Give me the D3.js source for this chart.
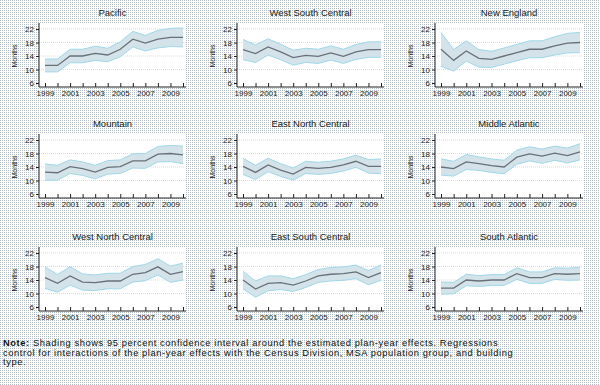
<!DOCTYPE html>
<html>
<head>
<meta charset="utf-8">
<script src="https://cdn.jsdelivr.net/npm/d3@7"></script>
<style>
  body { margin: 0; }
  svg { display: block; }
</style>
</head>
<body>
<div id="chart"></div>
<script>
// Years on the x axis, labelled only every other year
const years = [1999, 2000, 2001, 2002, 2003, 2004, 2005, 2006, 2007, 2008, 2009, 2010];
const yearLabels = [1999, 2001, 2003, 2005, 2007, 2009];
const monthTicks = [6, 10, 14, 18, 22];

const regions = ["Pacific", "West South Central", "New England",
                 "Mountain", "East North Central", "Middle Atlantic",
                 "West North Central", "East South Central", "South Atlantic"];

// estimated plan-year effects (months) and half-width of the 95% interval
const pacific       = [11.2, 11.2, 14.0, 14.0, 14.8, 14.3, 16.0, 19.0, 17.8, 19.0, 19.5, 19.5];
const pacificErr    = [1.9, 1.9, 2.0, 2.0, 2.1, 2.0, 2.2, 2.3, 2.3, 2.6, 2.7, 2.8];
const westSouth     = [15.9, 14.7, 16.7, 15.2, 13.5, 14.2, 13.9, 14.9, 13.9, 15.2, 15.9, 15.9];
const westSouthErr  = [3.0, 2.6, 2.4, 2.3, 2.2, 2.1, 2.1, 2.1, 2.1, 2.2, 2.3, 2.3];
const newEngland    = [16.0, 12.7, 15.5, 13.3, 13.0, 14.0, 15.0, 16.0, 16.0, 17.0, 17.8, 18.0];
const newEnglandErr = [5.0, 3.2, 3.0, 2.6, 2.4, 2.4, 2.4, 2.5, 2.5, 2.7, 2.9, 3.0];
const mountain      = [12.5, 12.3, 14.1, 13.5, 12.5, 13.9, 14.1, 15.8, 15.8, 17.8, 18.0, 17.6];
const mountainErr   = [2.4, 2.2, 2.0, 2.0, 2.0, 2.0, 2.0, 2.1, 2.2, 2.3, 2.4, 2.6];
const eastNorth     = [14.2, 12.4, 14.6, 13.1, 11.9, 13.9, 13.6, 13.9, 14.6, 15.7, 14.2, 14.2];
const eastNorthErr  = [2.4, 2.1, 2.0, 1.9, 1.8, 1.8, 1.8, 1.8, 1.8, 1.8, 2.0, 2.2];
const midAtlantic   = [14.0, 13.5, 15.5, 15.0, 14.4, 14.0, 16.9, 17.9, 17.2, 18.1, 17.4, 18.5];
const midAtlErr     = [2.4, 2.2, 2.2, 2.0, 2.0, 2.0, 2.1, 2.1, 2.1, 2.1, 2.2, 2.4];
const westNorth     = [14.7, 13.0, 15.2, 13.4, 13.2, 13.7, 13.7, 15.7, 16.2, 17.9, 15.7, 16.5];
const westNorthErr  = [3.2, 2.6, 2.7, 2.4, 2.3, 2.3, 2.3, 2.3, 2.4, 2.4, 2.4, 2.5];
const eastSouth     = [14.0, 11.3, 13.0, 13.2, 12.5, 13.7, 15.2, 15.7, 15.9, 16.4, 14.7, 16.2];
const eastSouthErr  = [2.6, 2.4, 2.2, 2.0, 1.9, 1.9, 1.9, 2.0, 2.0, 2.0, 2.1, 2.3];
const southAtlantic = [11.6, 11.6, 14.0, 13.7, 14.0, 14.0, 15.9, 14.7, 14.7, 15.9, 15.7, 15.9];
const southAtlErr   = [1.8, 1.7, 1.7, 1.6, 1.6, 1.6, 1.7, 1.7, 1.7, 1.7, 1.8, 1.9];

const seriesMid = [pacific, westSouth, newEngland, mountain, eastNorth, midAtlantic, westNorth, eastSouth, southAtlantic];
const seriesErr = [pacificErr, westSouthErr, newEnglandErr, mountainErr, eastNorthErr, midAtlErr, westNorthErr, eastSouthErr, southAtlErr];

const noteLines = [
    ["Note:", " Shading shows 95 percent confidence interval around the estimated plan-year effects.  Regressions"],
    ["", "control for interactions of the plan-year effects with the Census Division, MSA population group, and building"],
    ["", "type."]
];

// layout
const width = 600, height = 385;
const colTickX = [[45, 183], [243, 381], [441, 580]];  // x of 1999 and 2010 ticks
const rowTopY = [29, 140, 253];                          // y of the 22 tick
const plotH = 54;
const font = "'Liberation Sans', Arial, sans-serif";

const svg = d3.select("#chart").append("svg")
    .attr("width", width)
    .attr("height", height);

// dithered grey background
const pat = svg.append("defs").append("pattern")
    .attr("id", "dots")
    .attr("patternUnits", "userSpaceOnUse")
    .attr("width", 2).attr("height", 2);
pat.append("rect").attr("width", 2).attr("height", 2).attr("fill", "#ffffff");
pat.append("rect").attr("width", 1).attr("height", 1).attr("fill", "#b4bec8");

svg.append("rect")
    .attr("width", width).attr("height", height)
    .attr("fill", "url(#dots)");

regions.forEach((name, i) => {
    const col = i % 3, row = Math.floor(i / 3);
    const mid = seriesMid[i], err = seriesErr[i];
    const rows = years.map((yr, k) => ({ yr: yr, m: mid[k], lo: mid[k] - err[k], hi: mid[k] + err[k] }));

    const x = d3.scaleLinear().domain([1999, 2010]).range(colTickX[col]);
    const y = d3.scaleLinear().domain([6, 22]).range([rowTopY[row] + plotH, rowTopY[row]]);

    const left = x(1999) - 6, right = x(2010) + 3;
    const top = y(22) - 6, bottom = y(6) + 4;

    const g = svg.append("g");

    // white plot region
    g.append("rect")
        .attr("x", left).attr("y", top)
        .attr("width", right - left).attr("height", bottom - top)
        .attr("fill", "#fff");

    // faint grid lines
    g.selectAll(".grid")
        .data(monthTicks.slice(1))
        .join("line")
        .attr("x1", left).attr("x2", right)
        .attr("y1", d => y(d)).attr("y2", d => y(d))
        .attr("stroke", "#cfd3d8")
        .attr("stroke-width", 0.8)
        .attr("stroke-dasharray", "1,1");

    // confidence band
    g.append("path")
        .datum(rows)
        .attr("d", d3.area().x(d => x(d.yr)).y0(d => y(d.lo)).y1(d => y(d.hi)))
        .attr("fill", "#d3e3e9");

    const edge = (key) => d3.line().x(d => x(d.yr)).y(d => y(d[key]));
    ["lo", "hi"].forEach(k => {
        g.append("path")
            .datum(rows)
            .attr("d", edge(k))
            .attr("fill", "none")
            .attr("stroke", "#9fd8e9")
            .attr("stroke-width", 1);
    });

    // point estimate
    g.append("path")
        .datum(rows)
        .attr("d", edge("m"))
        .attr("fill", "none")
        .attr("stroke", "#6a7079")
        .attr("stroke-width", 1.3);

    // axes lines
    g.append("line")
        .attr("x1", left).attr("x2", left)
        .attr("y1", top).attr("y2", bottom)
        .attr("stroke", "#222").attr("stroke-width", 1);
    g.append("line")
        .attr("x1", left).attr("x2", right)
        .attr("y1", bottom).attr("y2", bottom)
        .attr("stroke", "#222").attr("stroke-width", 1);

    const yAxis = g.append("g")
        .attr("transform", `translate(${left},0)`)
        .call(d3.axisLeft(y).tickValues(monthTicks).tickSize(3).tickPadding(2));
    yAxis.select(".domain").remove();

    const xAxis = g.append("g")
        .attr("transform", `translate(0,${bottom})`)
        .call(d3.axisBottom(x).tickValues(years).tickSize(-4).tickPadding(3)
            .tickFormat(d => yearLabels.includes(d) ? String(d) : ""));
    xAxis.select(".domain").remove();

    [yAxis, xAxis].forEach(a => {
        a.selectAll("line").attr("stroke", "#222");
        a.selectAll("text")
            .attr("fill", "#222")
            .style("font-family", font)
            .style("font-size", "8px");
    });

    // "Months" axis title
    g.append("text")
        .attr("transform", `translate(${left - 24},${(y(6) + y(22)) / 2}) rotate(-90)`)
        .attr("text-anchor", "middle")
        .attr("dy", "0.35em")
        .style("font-family", font)
        .style("font-size", "7px")
        .attr("fill", "#222")
        .text("Months");

    // panel title
    g.append("text")
        .attr("x", (left + right) / 2)
        .attr("y", y(22) - 13)
        .attr("text-anchor", "middle")
        .style("font-family", font)
        .style("font-size", "9.5px")
        .attr("fill", "#1a1a1a")
        .text(name);
});

// note under the panels
const note = svg.append("text")
    .attr("x", 3)
    .style("font-family", font)
    .style("font-size", "9.3px")
    .style("letter-spacing", "0.6px")
    .attr("fill", "#111");

noteLines.forEach((ln, k) => {
    const t = note.append("tspan").attr("x", 3).attr("y", 346 + k * 9.7);
    if (ln[0]) t.append("tspan").style("font-weight", "bold").text(ln[0]);
    t.append("tspan").text(ln[1]);
});
</script>
</body>
</html>
